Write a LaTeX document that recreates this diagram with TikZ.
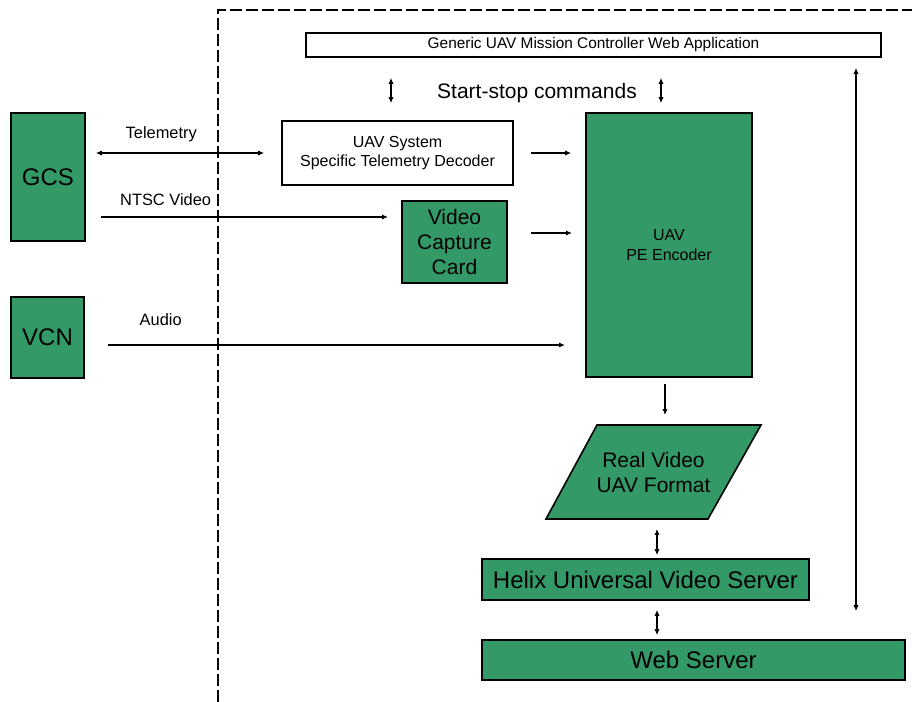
\documentclass[tikz,border=0pt]{standalone}
\usepackage{fontspec}
\setmainfont{Liberation Sans}
\usetikzlibrary{arrows.meta}
\definecolor{uavgreen}{RGB}{51,153,102}
\newcommand{\fs}[1]{\fontsize{#1}{1.2\dimexpr#1pt\relax}\selectfont}
\begin{document}
\begin{tikzpicture}[x=0.5pt,y=-0.5pt,
	box/.style={draw,line width=0.8pt,align=center,inner sep=0pt},
	gbox/.style={box,fill=uavgreen},
	arr/.style={line width=0.7pt,-{Latex[length=3pt,width=2.6pt]}},
	dbl/.style={line width=0.7pt,{Latex[length=3pt,width=2.6pt]}-{Latex[length=3pt,width=2.6pt]}},
	lbl/.style={font=\fs{8.2}}]
	\useasboundingbox (0,0) rectangle (912,702);
	\draw[line width=0.7pt,dash pattern=on 6pt off 2pt] (218,702) -- (218,10) -- (912,10);
	
	\node[box,minimum width=287.5pt,minimum height=12pt,font=\fs{7.7}] at (593.5,45) (app) {Generic UAV Mission Controller Web Application};
	\node[font=\fs{10.5}] at (537,93) (ss) {Start-stop commands};
	
	\node[gbox,minimum width=37pt,minimum height=64pt,font=\fs{12}] at (48,177) (gcs) {GCS};
	\node[gbox,minimum width=36.5pt,minimum height=40.5pt,font=\fs{12}] at (47.5,337.5) (vcn) {VCN};
	
	\node[box,minimum width=115.5pt,minimum height=32pt,font=\fs{8}] at (397.5,153) (dec) {UAV System\\Specific Telemetry Decoder};
	\node[gbox,minimum width=52.5pt,minimum height=41pt,font=\fontsize{10.5}{12.5}\selectfont] at (454.5,242) (cap) {Video\\Capture\\Card};
	\node[gbox,minimum width=83pt,minimum height=132pt,font=\fs{8}] at (669,245) (enc) {UAV\\PE Encoder};
	
	% parallelogram
	\filldraw[line width=0.8pt,fill=uavgreen] (546,519) -- (597,425) -- (761,425) -- (708,519) -- cycle;
	\node[align=center,inner sep=0pt,minimum width=107.5pt,minimum height=47pt,font=\fontsize{10.5}{12.5}\selectfont] at (653.5,472.5) (rv) {Real Video\\UAV Format};
	\node[gbox,minimum width=163.5pt,minimum height=20.5pt,font=\fs{12}] at (645.5,579.5) (helix) {Helix Universal Video Server};
	\node[gbox,minimum width=211.5pt,minimum height=20pt,font=\fs{12}] at (693.5,660) (web) {Web Server};
	
	\coordinate (ntsc) at (388,217);
	\coordinate (audio) at (565,345);
	\coordinate (vid) at (572,233);
	\coordinate (col) at (657,0);
	
	\draw[dbl,shorten <=5pt,shorten >=8.5pt] (gcs.east |- dec) -- (dec.west) node[lbl,pos=0.386,above=2pt] {Telemetry};
	\draw[arr,shorten <=7.5pt] (gcs.east |- ntsc) -- (ntsc) node[lbl,pos=0.264,above=2pt] {NTSC Video};
	\draw[arr,shorten <=11.5pt] (vcn.east |- audio) -- (audio) node[lbl,pos=0.158,above=6pt] {Audio};
	\draw[arr,shorten <=8.5pt,shorten >=7pt] (dec.east) -- (enc.west |- dec.east);
	\draw[arr,shorten <=11.5pt] (cap.east |- vid) -- (vid);
	
	\draw[dbl,shorten <=10pt,shorten >=8.5pt] (app.south -| 391,0) -- (dec.north -| 391,0);
	\draw[dbl,shorten <=10pt,shorten >=4.5pt] (app.south -| 661,0) -- (enc.north -| 661,0);
	\draw[dbl,shorten <=5pt,shorten >=14pt] (app.south -| 856,0) -- (web.north -| 856,0);
	
	\draw[arr,shorten <=3pt,shorten >=5pt] (enc.south -| 665,0) -- (rv.north -| 665,0);
	\draw[dbl,shorten <=4.5pt,shorten >=1.5pt] (rv.south -| col) -- (helix.north -| col);
	\draw[dbl,shorten <=4.5pt,shorten >=2pt] (helix.south -| col) -- (web.north -| col);
\end{tikzpicture}
\end{document}
